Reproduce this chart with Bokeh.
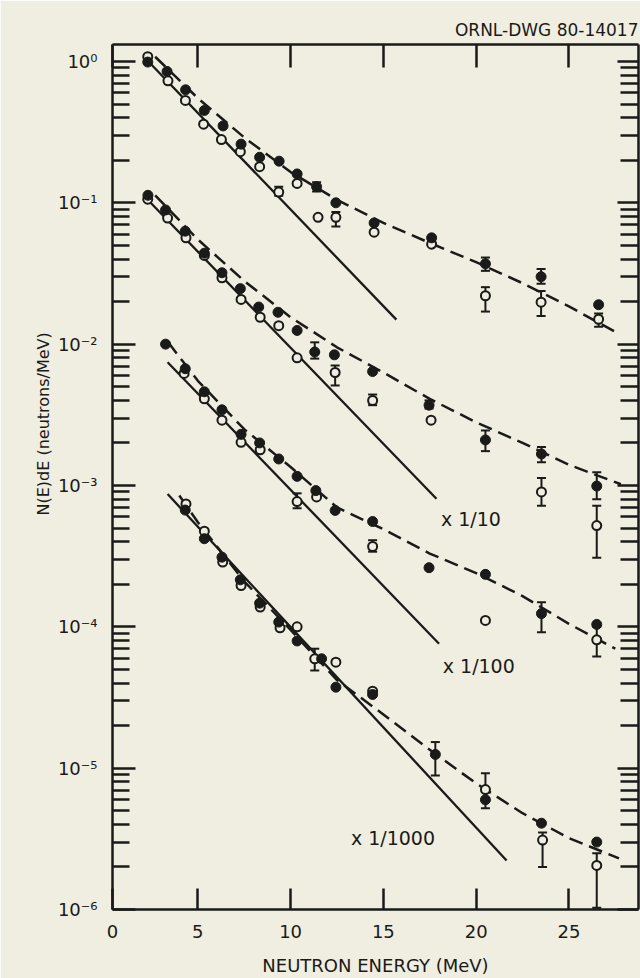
from bokeh.plotting import figure
from bokeh.models import (FixedTicker, LinearAxis, LogAxis, CustomJSTickFormatter,
                          Label, Title, Whisker, TeeHead, ColumnDataSource)
from bokeh.embed import file_html
from bokeh.resources import INLINE

# ---------------- data ----------------
# Group 1 (x 1)
g1_filled_E = [2.3, 3.34, 4.34, 5.35, 6.36, 7.33, 8.33, 9.38, 10.35, 11.4, 12.44, 14.5, 17.6, 20.5, 23.5, 26.6]
g1_filled_N = [0.99, 0.85, 0.63, 0.45, 0.35, 0.26, 0.21, 0.197, 0.16, 0.13, 0.10, 0.072, 0.0565, 0.037, 0.030, 0.019]
g1_open_E = [2.3, 3.39, 4.33, 5.31, 6.27, 7.29, 8.33, 9.36, 10.35, 11.48, 12.44, 14.5, 17.6, 20.5, 23.5, 26.6]
g1_open_N = [1.08, 0.73, 0.53, 0.36, 0.28, 0.23, 0.18, 0.119, 0.137, 0.079, 0.079, 0.062, 0.051, 0.022, 0.0198, 0.015]
g1_err_E = [9.36, 11.4, 12.44, 20.5, 20.5, 23.5, 23.5, 26.6]
g1_err_lo = [0.112, 0.12, 0.068, 0.033, 0.017, 0.0267, 0.0158, 0.0133]
g1_err_hi = [0.13, 0.14, 0.086, 0.041, 0.0253, 0.034, 0.0238, 0.0165]
g1_solid_E = [2.4, 15.7]
g1_solid_N = [0.98, 0.0149]
g1_dash_E = [2.7, 5.0, 7.5, 10.0, 12.5, 15.0, 17.5, 20.0, 22.5, 25.0, 27.7]
g1_dash_N = [1.08, 0.55, 0.29, 0.165, 0.105, 0.072, 0.052, 0.038, 0.027, 0.0185, 0.0118]

# Group 2 (x 1/10)
g2_filled_E = [2.31, 3.26, 4.32, 5.35, 6.30, 7.29, 8.28, 9.32, 10.35, 11.3, 12.36, 14.42, 17.46, 20.5, 23.52, 26.5]
g2_filled_N = [0.113, 0.089, 0.063, 0.044, 0.032, 0.0247, 0.0183, 0.0168, 0.0125, 0.0088, 0.0084, 0.0064, 0.0037, 0.0021, 0.00167, 0.00099]
g2_open_E = [2.3, 3.37, 4.36, 5.35, 6.30, 7.33, 8.36, 9.36, 10.35, 12.4, 14.42, 17.57, 23.52, 26.5]
g2_open_N = [0.106, 0.078, 0.0566, 0.0424, 0.0295, 0.0207, 0.0155, 0.0135, 0.008, 0.0063, 0.0040, 0.0029, 0.0009, 0.00052]
g2_err_E = [11.3, 12.4, 14.42, 17.46, 20.5, 23.52, 23.52, 26.5, 26.5]
g2_err_lo = [0.0079, 0.0051, 0.0037, 0.0035, 0.00175, 0.00146, 0.00072, 0.0008, 0.000308]
g2_err_hi = [0.0103, 0.00706, 0.0044, 0.0040, 0.00245, 0.00187, 0.00113, 0.00124, 0.00072]
g2_solid_E = [2.3, 17.86]
g2_solid_N = [0.105, 0.000805]
g2_dash_E = [2.7, 5.0, 7.5, 10.0, 12.5, 15.0, 17.5, 20.0, 22.5, 25.0, 27.8]
g2_dash_N = [0.113, 0.055, 0.028, 0.0155, 0.0095, 0.0063, 0.0041, 0.0028, 0.0020, 0.0014, 0.00102]

# Group 3 (x 1/100)
g3_filled_E = [3.26, 4.32, 5.35, 6.30, 7.33, 8.33, 9.36, 10.35, 11.36, 12.4, 14.42, 17.46, 20.5, 23.52, 26.5]
g3_filled_N = [0.0100, 0.0067, 0.0046, 0.00343, 0.0023, 0.0020, 0.00154, 0.00116, 0.00092, 0.000666, 0.000556, 0.000262, 0.000235, 0.000124, 0.000104]
g3_open_E = [4.26, 5.35, 6.30, 7.33, 8.36, 10.35, 11.4, 14.42, 20.5, 26.5]
g3_open_N = [0.0062, 0.0041, 0.0029, 0.00202, 0.00179, 0.00077, 0.00083, 0.00037, 0.000111, 0.0000809]
g3_err_E = [10.35, 14.42, 23.52, 26.5]
g3_err_lo = [0.00069, 0.00034, 0.0000916, 0.0000616]
g3_err_hi = [0.00088, 0.00041, 0.000149, 0.0001]
g3_solid_E = [3.37, 18.0]
g3_solid_N = [0.00745, 0.0000759]
g3_dash_E = [3.4, 5.0, 7.5, 10.0, 12.5, 15.0, 17.5, 20.0, 22.5, 25.0, 27.5]
g3_dash_N = [0.0103, 0.0055, 0.0025, 0.00135, 0.0007, 0.00049, 0.00033, 0.00024, 0.000165, 0.000105, 0.00007]

# Group 4 (x 1/1000)
g4_filled_E = [4.32, 5.35, 6.30, 7.29, 8.33, 9.36, 10.35, 11.67, 12.44, 14.42, 17.8, 20.5, 23.52, 26.5]
g4_filled_N = [0.00067, 0.00042, 0.000311, 0.000215, 0.000147, 0.000108, 0.0000794, 0.0000594, 0.0000374, 0.0000332, 0.0000125, 0.00000597, 0.00000408, 0.0000030]
g4_open_E = [4.36, 5.35, 6.34, 7.33, 8.36, 9.43, 10.35, 11.3, 12.44, 14.42, 20.5, 23.58, 26.5]
g4_open_N = [0.00074, 0.000475, 0.000287, 0.000196, 0.000138, 0.0000984, 0.0001, 0.0000594, 0.0000562, 0.000035, 0.00000706, 0.0000031, 0.00000205]
g4_err_E = [11.3, 17.8, 20.5, 23.58, 26.5]
g4_err_lo = [0.0000491, 0.00000887, 0.0000052, 0.0000020, 0.00000103]
g4_err_hi = [0.00007, 0.0000153, 0.0000092, 0.0000035, 0.0000025]
g4_solid_E = [3.37, 21.64]
g4_solid_N = [0.00087, 0.00000222]
g4_dash_E = [4.0, 5.0, 7.5, 10.0, 12.5, 15.0, 17.5, 20.0, 22.5, 25.0, 27.7]
g4_dash_N = [0.00085, 0.00055, 0.00021, 0.000095, 0.000042, 0.000024, 0.0000135, 0.0000078, 0.0000048, 0.0000032, 0.0000023]

scale_labels = ["x 1/10", "x 1/100", "x 1/1000"]

x_ticks = [0.4, 5, 10, 15, 20, 25]
x_tick_labels = ["0", "5", "10", "15", "20", "25"]
y_ticks = [1e0, 1e-1, 1e-2, 1e-3, 1e-4, 1e-5, 1e-6]
y_tick_labels = ["10\u2070", "10\u207b\u00b9", "10\u207b\u00b2", "10\u207b\u00b3", "10\u207b\u2074", "10\u207b\u2075", "10\u207b\u2076"]
y_minor = [m * 10.0 ** e for e in range(-6, 0) for m in range(2, 10)]

# ---------------- styling ----------------
BG = "#f0eee0"
INK = "#1a1a18"
FONT = "DejaVu Sans"

p = figure(width=640, height=978, x_range=(0.4, 28.75), y_range=(1e-6, 10 ** 0.12),
           y_axis_type="log", output_backend="svg", toolbar_location=None,
           min_border_left=112, min_border_right=2, min_border_top=44, min_border_bottom=69,
           background_fill_color=BG, border_fill_color=BG)
p.outline_line_color = None
p.xgrid.visible = False
p.ygrid.visible = False

# drawing number as the plot title, right aligned
p.title.text = "ORNL-DWG 80-14017"
p.title.align = "right"
p.title.text_font = FONT
p.title.text_font_size = "17px"
p.title.text_font_style = "normal"
p.title.text_color = INK
p.title.standoff = 9

xfmt = CustomJSTickFormatter(args=dict(xvals=x_ticks, xlabs=x_tick_labels),
                             code="let b = 0, d = 1e9; for (let i = 0; i < xvals.length; i++) { const q = Math.abs(xvals[i] - tick); if (q < d) { d = q; b = i; } } return xlabs[b];")
yfmt = CustomJSTickFormatter(args=dict(yvals=y_ticks, ylabs=y_tick_labels),
                             code="let b = 0, d = 1e9; for (let i = 0; i < yvals.length; i++) { const q = Math.abs(Math.log10(yvals[i]) - Math.log10(tick)); if (q < d) { d = q; b = i; } } return ylabs[b];")
blank = CustomJSTickFormatter(code="return '';")

def style_axis(ax, tin, min_in):
    ax.axis_line_color = INK
    ax.axis_line_width = 2.5
    ax.major_tick_line_color = INK
    ax.major_tick_line_width = 2.5
    ax.minor_tick_line_color = INK
    ax.minor_tick_line_width = 2.5
    ax.major_tick_in = tin
    ax.major_tick_out = 0
    ax.minor_tick_in = min_in
    ax.minor_tick_out = 0

xb = p.xaxis[0]
xb.ticker = FixedTicker(ticks=x_ticks, minor_ticks=[])
xb.formatter = xfmt
style_axis(xb, 21, 0)
xb.major_label_text_font = FONT
xb.major_label_text_font_size = "18px"
xb.major_label_text_color = INK
xb.major_label_standoff = 15
xb.axis_label = "NEUTRON ENERGY (MeV)"
xb.axis_label_text_font = FONT
xb.axis_label_text_font_size = "18px"
xb.axis_label_text_font_style = "normal"
xb.axis_label_text_color = INK
xb.axis_label_standoff = 14

yl = p.yaxis[0]
yl.ticker = FixedTicker(ticks=y_ticks, minor_ticks=y_minor)
yl.formatter = yfmt
style_axis(yl, 23, 17)
yl.major_label_text_font = FONT
yl.major_label_text_font_size = "18px"
yl.major_label_text_color = INK
yl.major_label_standoff = 15

xt = LinearAxis(ticker=FixedTicker(ticks=x_ticks, minor_ticks=[]), formatter=blank,
                major_label_standoff=0)
style_axis(xt, 23, 0)
p.add_layout(xt, "above")

yr = LogAxis(ticker=FixedTicker(ticks=y_ticks, minor_ticks=y_minor), formatter=blank,
             major_label_standoff=0)
style_axis(yr, 21, 18)
p.add_layout(yr, "right")

# y-axis title, placed beside the upper-middle part of the axis as in the original
ytitle = Title(text="N(E)dE (neutrons/MeV)", align="left", offset=394,
               text_font=FONT, text_font_size="16px", text_font_style="normal",
               text_color=INK, standoff=4)
p.add_layout(ytitle, "left")

groups = [
    (g1_filled_E, g1_filled_N, g1_open_E, g1_open_N, g1_err_E, g1_err_lo, g1_err_hi, g1_solid_E, g1_solid_N, g1_dash_E, g1_dash_N),
    (g2_filled_E, g2_filled_N, g2_open_E, g2_open_N, g2_err_E, g2_err_lo, g2_err_hi, g2_solid_E, g2_solid_N, g2_dash_E, g2_dash_N),
    (g3_filled_E, g3_filled_N, g3_open_E, g3_open_N, g3_err_E, g3_err_lo, g3_err_hi, g3_solid_E, g3_solid_N, g3_dash_E, g3_dash_N),
    (g4_filled_E, g4_filled_N, g4_open_E, g4_open_N, g4_err_E, g4_err_lo, g4_err_hi, g4_solid_E, g4_solid_N, g4_dash_E, g4_dash_N),
]

for fE, fN, oE, oN, eE, elo, ehi, sE, sN, dE, dN in groups:
    p.line(sE, sN, line_color=INK, line_width=2.3)
    p.line(dE, dN, line_color=INK, line_width=2.5, line_dash="14 7")
    src = ColumnDataSource(dict(x=eE, lo=elo, hi=ehi))
    w = Whisker(source=src, base="x", lower="lo", upper="hi", dimension="height",
                line_color=INK, line_width=2,
                upper_head=TeeHead(size=9, line_color=INK, line_width=2),
                lower_head=TeeHead(size=9, line_color=INK, line_width=2))
    p.add_layout(w)
    p.scatter(oE, oN, marker="circle", size=9, fill_color=BG, line_color=INK, line_width=2)
    p.scatter(fE, fN, marker="circle", size=10, fill_color=INK, line_color=INK, line_width=1)

# scale annotations (data coordinates)
for (ex, ny), txt in zip([(18.1, 5.75e-4), (18.2, 5.3e-5), (13.25, 3.2e-6)], scale_labels):
    p.add_layout(Label(x=ex, y=ny, text=txt, text_font=FONT, text_font_size="19px",
                       text_color=INK, text_align="left", text_baseline="middle"))

open("out.html", "w").write(file_html(p, INLINE))
